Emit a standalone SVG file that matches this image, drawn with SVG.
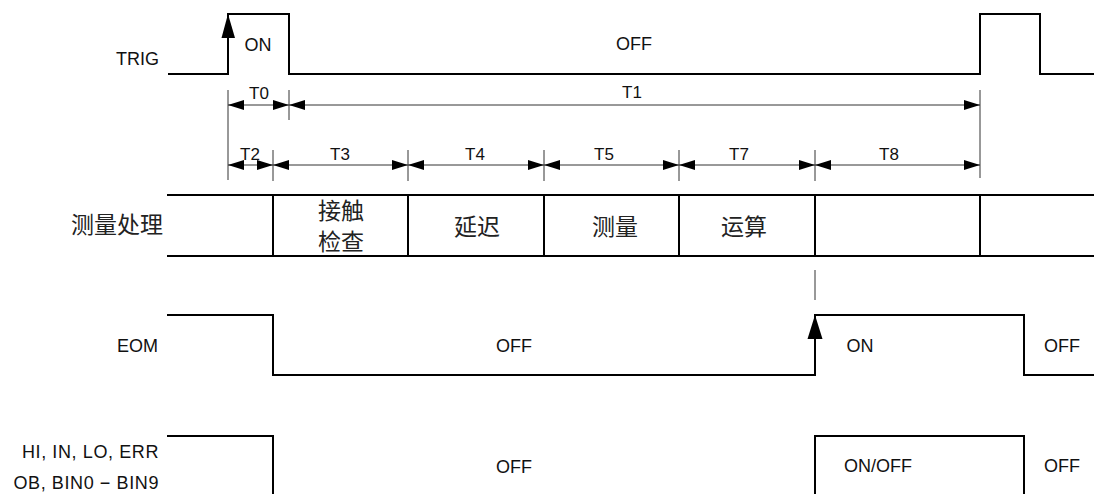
<svg xmlns="http://www.w3.org/2000/svg" width="1094" height="494" viewBox="0 0 1094 494">
<style>
.sig{fill:none;stroke:#000;stroke-width:2}
.dim{fill:none;stroke:#333;stroke-width:1}
.lbl{font-family:"Liberation Sans",Arial,sans-serif;font-size:18px;fill:#111}
.tl{font-family:"Liberation Sans",Arial,sans-serif;font-size:17px;fill:#111;text-anchor:middle}
.cjk{font-family:"Liberation Sans","Noto Sans CJK SC",sans-serif;font-size:23px;fill:#222;text-anchor:middle}
.r{text-anchor:end}
.m{text-anchor:middle}
.w{letter-spacing:0.6px}
</style>
<defs>
<marker id="ah" viewBox="0 0 16 10" refX="16" refY="5" markerWidth="16" markerHeight="10" markerUnits="userSpaceOnUse" orient="auto-start-reverse">
<path d="M0,0 L16,5 L0,10 Z" fill="#000"/>
</marker>
</defs>

<g id="trig">
<text class="lbl r" x="159" y="65">TRIG</text>
<path class="sig" d="M168,74 H228 V14 H289 V74 H980 V14 H1040 V74 H1094"/>
<path d="M228,14 L221.5,38 L235,38 Z" fill="#000"/>
<text class="lbl m" x="258" y="51">ON</text>
<text class="lbl m" x="634" y="50">OFF</text>
</g>

<g id="timing">
<g class="dim">
<line x1="228" y1="90" x2="228" y2="180"/>
<line x1="289" y1="90" x2="289" y2="120"/>
<line x1="980" y1="90" x2="980" y2="178"/>
<line x1="273" y1="150" x2="273" y2="181"/>
<line x1="408" y1="150" x2="408" y2="181"/>
<line x1="544" y1="150" x2="544" y2="181"/>
<line x1="679" y1="150" x2="679" y2="181"/>
<line x1="815" y1="150" x2="815" y2="181"/>
</g>
<g class="dim" marker-start="url(#ah)" marker-end="url(#ah)">
<line x1="228" y1="105" x2="289" y2="105"/>
<line x1="289" y1="105" x2="980" y2="105"/>
<line x1="228" y1="165" x2="273" y2="165"/>
<line x1="273" y1="165" x2="408" y2="165"/>
<line x1="408" y1="165" x2="544" y2="165"/>
<line x1="544" y1="165" x2="679" y2="165"/>
<line x1="679" y1="165" x2="815" y2="165"/>
<line x1="815" y1="165" x2="980" y2="165"/>
</g>
<text class="tl" x="259" y="99">T0</text>
<text class="tl" x="632" y="98">T1</text>
<text class="tl" x="250" y="160">T2</text>
<text class="tl" x="340" y="160">T3</text>
<text class="tl" x="475" y="160">T4</text>
<text class="tl" x="604" y="160">T5</text>
<text class="tl" x="739" y="160">T7</text>
<text class="tl" x="889" y="160">T8</text>
</g>

<g id="process">
<text class="cjk" x="163" y="232.5" style="text-anchor:end">测量处理</text>
<path class="sig" d="M167,195 H1094 M167,256 H1094 M273,195 V256 M408,195 V256 M544,195 V256 M679,195 V256 M815,195 V256 M980,195 V256"/>
<text class="cjk" x="341" y="219">接触</text>
<text class="cjk" x="341" y="250">检查</text>
<text class="cjk" x="477" y="234.5">延迟</text>
<text class="cjk" x="615" y="234.5">测量</text>
<text class="cjk" x="744" y="234.5">运算</text>
<line class="dim" x1="815" y1="270" x2="815" y2="300"/>
</g>

<g id="eom">
<text class="lbl r" x="158" y="352">EOM</text>
<path class="sig" d="M167,315 H273 V375 H815 V315 H1024 V375 H1094"/>
<path d="M815,315 L807.5,339 L822.5,339 Z" fill="#000"/>
<text class="lbl m" x="514" y="352">OFF</text>
<text class="lbl m" x="860" y="352">ON</text>
<text class="lbl m" x="1062" y="352">OFF</text>
</g>

<g id="judge">
<text class="lbl r w" x="159" y="457.5">HI, IN, LO, ERR</text>
<text class="lbl r w" x="159" y="489">OB, BIN0 − BIN9</text>
<path class="sig" d="M167,436 H273 V496 M815,496 V436 H1024 V496"/>
<text class="lbl m" x="514" y="472.5">OFF</text>
<text class="lbl m" x="878" y="472">ON/OFF</text>
<text class="lbl m" x="1062" y="472">OFF</text>
</g>
</svg>
